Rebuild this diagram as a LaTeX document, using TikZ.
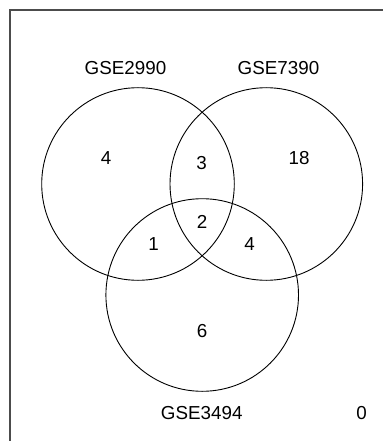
\documentclass[tikz,border=0pt]{standalone}
\usepackage{fontspec}
\setmainfont{Liberation Sans}
\begin{document}
\begin{tikzpicture}[x=1pt,y=-1pt,
  setcircle/.style={circle,draw=black,line width=0.9pt,minimum size=192.6pt,inner sep=0pt},
  lbl/.style={font=\fontsize{18.8}{22}\selectfont,inner sep=0pt,anchor=center},
  frameline/.style={draw=black!70,line width=1.3pt}]
\useasboundingbox (0,0) rectangle (383,441);
\draw[frameline] (10,441) -- (10,10) -- (383,10);
\node[setcircle] (cA) at (138,184) {};
\node[setcircle] (cB) at (266.3,184) {};
\node[setcircle] (cC) at (202.2,295) {};
\node[lbl] (tA) at (125.5,68) {GSE2990};
\node[lbl] (tB) at (278.5,68) {GSE7390};
\node[lbl] (tC) at (201.7,413) {GSE3494};
\node[lbl] (tz) at (361.7,413) {0};
\node[lbl] (nA) at (106,158) {4};
\node[lbl] (nAB) at (201.7,163) {3};
\node[lbl] (nB) at (299,158) {18};
\node[lbl] (nABC) at (202,222) {2};
\node[lbl] (nAC) at (153.5,244) {1};
\node[lbl] (nBC) at (249.5,244) {4};
\node[lbl] (nC) at (202,331) {6};
\end{tikzpicture}
\end{document}
